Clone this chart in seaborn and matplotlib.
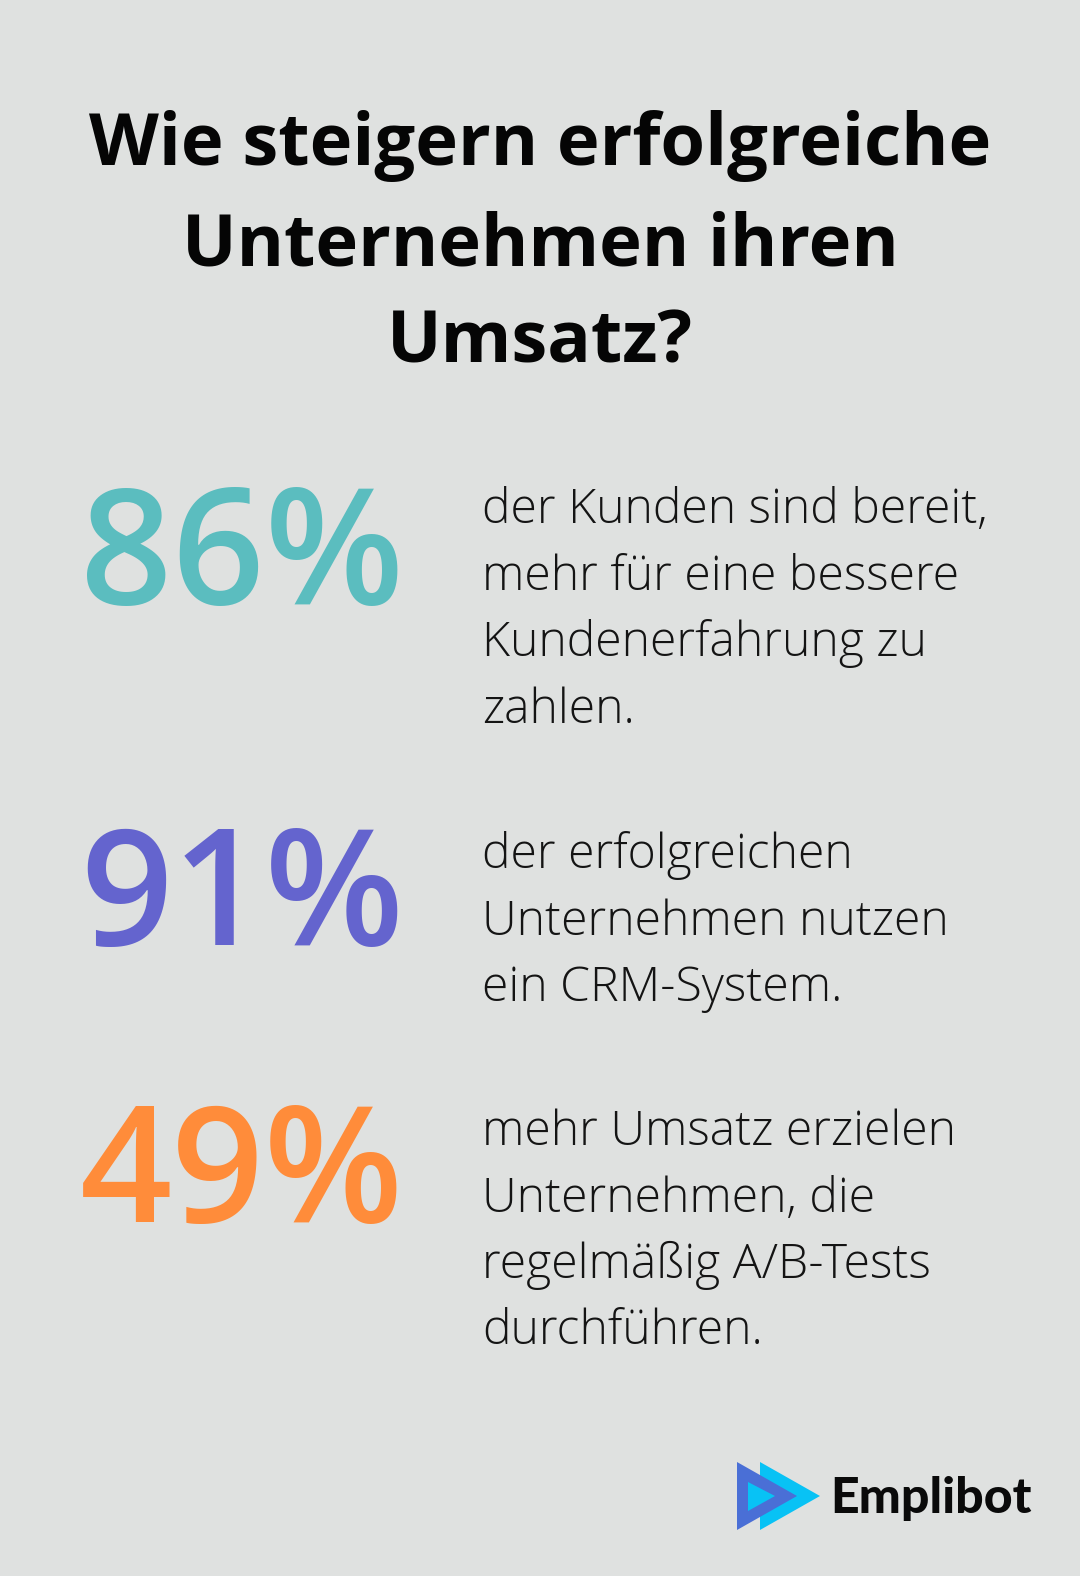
import matplotlib
matplotlib.use("Agg")
import matplotlib.pyplot as plt
from matplotlib.patches import Polygon
import seaborn as sns

# ---- data ----
title_lines = ["Wie steigern erfolgreiche", "Unternehmen ihren", "Umsatz?"]
values = [86, 91, 49]
value_labels = [f"{v}%" for v in values]
descriptions = [
    ["der Kunden sind bereit,", "mehr für eine bessere", "Kundenerfahrung zu", "zahlen."],
    ["der erfolgreichen", "Unternehmen nutzen", "ein CRM-System."],
    ["mehr Umsatz erzielen", "Unternehmen, die", "regelmäßig A/B-Tests", "durchführen."],
]
colors = ["#5BBDBF", "#6464CE", "#FF8C3A"]
brand = "Emplibot"

BG = "#DFE1E0"
W, H = 1080, 1576

sns.set_theme(style="white")
plt.rcParams["font.family"] = ["Open Sans", "DejaVu Sans"]

fig = plt.figure(figsize=(W / 100, H / 100), dpi=100, facecolor=BG)
ax = fig.add_axes([0, 0, 1, 1])
ax.set_xlim(0, W)
ax.set_ylim(H, 0)
ax.set_facecolor(BG)
ax.axis("off")

# title
title_base = [165, 265, 362]
for line, y in zip(title_lines, title_base):
    ax.text(540, y, line, ha="center", va="baseline", fontsize=52,
            fontweight="bold", color="#050505")

# stats
num_base = [604, 945, 1222]
text_first = [523, 868, 1145]
line_gap = 66.5
for lab, col, desc, nb, tb in zip(value_labels, colors, descriptions, num_base, text_first):
    ax.text(80, nb, lab, ha="left", va="baseline", fontsize=116.5,
            fontweight="semibold", color=col)
    for i, d in enumerate(desc):
        ax.text(482, tb + i * line_gap, d, ha="left", va="baseline",
                fontsize=34.7, fontweight="light", color="#141414")

# logo
ax.add_patch(Polygon([(760, 1462), (760, 1530), (820, 1496)], closed=True,
                     facecolor="#08C2F5", edgecolor="none"))
ax.add_patch(Polygon([(737, 1462), (737, 1530), (797, 1496)], closed=True,
                     facecolor="#4A6FD6", edgecolor="none"))
ax.add_patch(Polygon([(748, 1482), (748, 1511), (775, 1496)], closed=True,
                     facecolor="#08C2F5", edgecolor="none"))
ax.text(830, 1513, brand, ha="left", va="baseline", fontsize=36,
        fontweight="black", color="#0A0A0A", family=["Lato", "DejaVu Sans"])

fig.savefig("out.png", dpi=100, facecolor=BG)
